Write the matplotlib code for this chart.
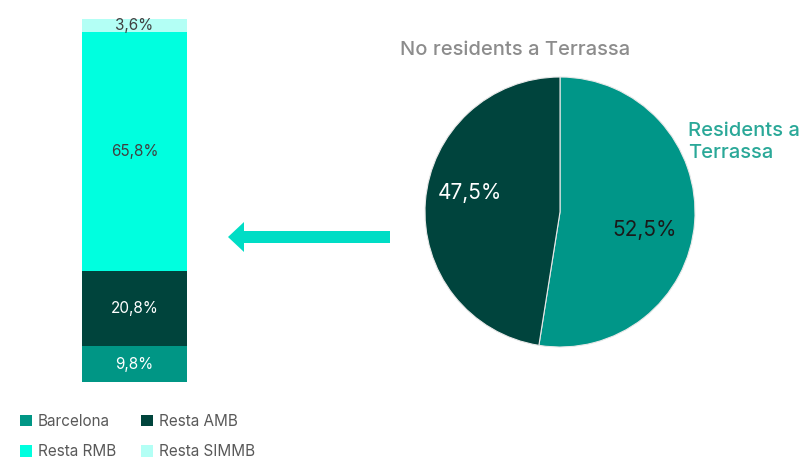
import matplotlib.pyplot as plt
from matplotlib.patches import Patch

plt.rcParams['font.family'] = ['Inter', 'DejaVu Sans']

# stacked bar: origin of non-residents
bar_labels = ["Barcelona", "Resta AMB", "Resta RMB", "Resta SIMMB"]
bar_values = [9.8, 20.8, 65.8, 3.6]
bar_colors = ["#009685", "#00443C", "#00FFDF", "#B3FFF5"]
bar_text_colors = ["white", "white", "#404040", "#404040"]

# pie: residents vs non-residents
pie_labels = ["Residents a\nTerrassa", "No residents a Terrassa"]
pie_values = [52.5, 47.5]
pie_colors = ["#009688", "#00443D"]

W, H = 808, 462
fig = plt.figure(figsize=(W / 100, H / 100), dpi=100)

# background axes in pixel coordinates for the arrow
bg = fig.add_axes([0, 0, 1, 1])
bg.set_xlim(0, W)
bg.set_ylim(H, 0)
bg.axis('off')
bg.arrow(390, 237, -162, 0, width=12, head_width=30, head_length=16,
         length_includes_head=True, color="#00DDC5", lw=0)

# stacked bar
ax = fig.add_axes([82 / W, (H - 382) / H, 105 / W, 363 / H])
bottom = 0
for lab, val, col, tcol in zip(bar_labels, bar_values, bar_colors, bar_text_colors):
    ax.bar(0, val, bottom=bottom, width=1, color=col, label=lab)
    ax.text(0, bottom + val / 2, f"{val:.1f}".replace('.', ',') + "%",
            ha='center', va='center', color=tcol, fontsize=11)
    bottom += val
ax.set_xlim(-0.5, 0.5)
ax.set_ylim(0, 100)
ax.axis('off')

# pie
pax = fig.add_axes([425 / W, (H - 347) / H, 270 / W, 270 / H])
pax.pie(pie_values, colors=pie_colors, startangle=90, counterclock=False,
        wedgeprops=dict(linewidth=0.8, edgecolor="#e8e8e8"))
pax.set_xlim(-1, 1)
pax.set_ylim(-1, 1)
pax.text(0.63, -0.13, f"{pie_values[0]:.1f}".replace('.', ',') + "%",
         ha='center', va='center', fontsize=15, color="#1a1a1a")
pax.text(-0.67, 0.14, f"{pie_values[1]:.1f}".replace('.', ',') + "%",
         ha='center', va='center', fontsize=15, color="white")

fig.text(400 / W, 1 - 50 / H, pie_labels[1], ha='left', va='center',
         fontsize=14.5, color="#8c8c8c", fontweight='medium')
fig.text(688 / W, 1 - 142 / H, pie_labels[0], ha='left', va='center',
         fontsize=14.5, color="#2aa898", linespacing=1.35, fontweight='medium')

# legend
handles = [Patch(facecolor=c, label=l) for l, c in zip(bar_labels, bar_colors)]
order = [0, 2, 1, 3]
fig.legend([handles[i] for i in order], [bar_labels[i] for i in order],
           loc='upper left', bbox_to_anchor=(6 / W, 1 - 400 / H), ncol=2,
           frameon=False, fontsize=11, handlelength=0.8, handleheight=0.8,
           handletextpad=0.4, columnspacing=1.6, labelspacing=1.0,
           labelcolor="#595959")

fig.savefig("out.png", dpi=100)
